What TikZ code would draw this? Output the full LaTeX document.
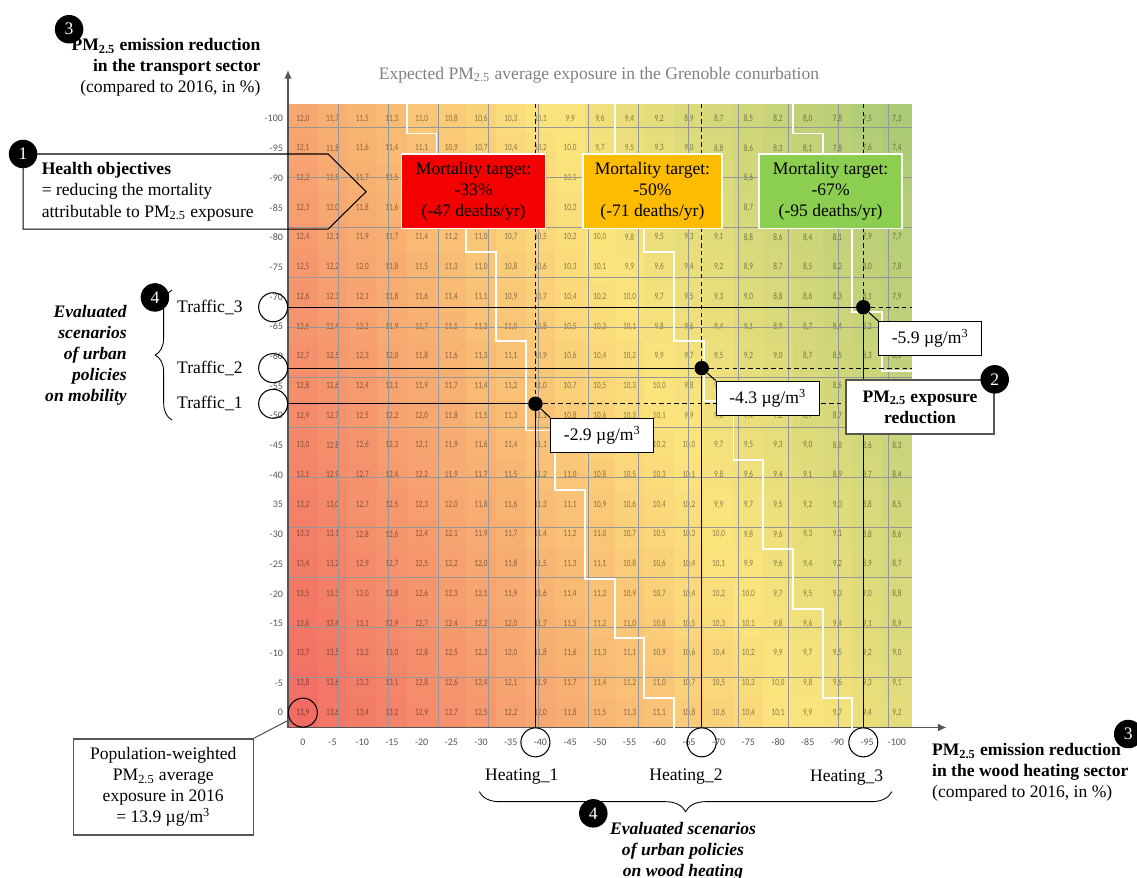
\documentclass[tikz,border=0pt]{standalone}
\usepackage{fontspec}
\setmainfont{Liberation Serif}
\newfontfamily\cellfont[FakeStretch=0.75]{Carlito}
\newfontfamily\tickfont{Carlito}
\usepackage{tikz}
\usetikzlibrary{calc,shapes,arrows.meta,decorations.pathreplacing}

\definecolor{cellhi}{RGB}{242,108,100}
\definecolor{cellmid}{RGB}{252,228,125}
\definecolor{celllo}{RGB}{172,203,118}
\definecolor{axisgray}{RGB}{85,85,85}
\definecolor{titlegray}{RGB}{128,128,128}
\definecolor{cellgrid}{RGB}{150,150,150}
\definecolor{targetred}{RGB}{245,0,0}
\definecolor{targetorange}{RGB}{253,188,0}
\definecolor{targetgreen}{RGB}{140,206,80}

\begin{document}
\begin{tikzpicture}[x=0.594cm,y=0.594cm,
    badge/.style={circle,fill=black,text=white,inner sep=0pt,minimum size=0.57cm},
    ring/.style={circle,draw=black,line width=0.6pt,inner sep=0pt,minimum size=0.58cm},
    dot/.style={circle,fill=black,inner sep=0pt,minimum size=0.29cm},
    targetbox/.style={draw=white,line width=0.8pt,align=center,minimum height=1.49cm,inner sep=1pt},
    valuebox/.style={draw=black,fill=white,line width=0.6pt,minimum width=2.06cm,minimum height=0.68cm,inner sep=1pt},
    ticklab/.style={font=\tickfont\fontsize{5.7}{6}\selectfont,text=axisgray,inner sep=1pt},
    cellnum/.style={font=\cellfont\fontsize{5.5}{6}\selectfont,text=black,text opacity=0.45,inner sep=0pt},
    axisline/.style={draw=axisgray,line width=1.1pt,-{Latex[length=5pt,width=4.5pt]}},
    stairline/.style={draw=white,line width=1.1pt},
    scenline/.style={draw=black,line width=0.6pt},
    guideline/.style={draw=black,line width=0.6pt,dash pattern=on 2.6pt off 1.8pt},
    bigbrace/.style={decorate,draw=black,line width=0.5pt}]
  \useasboundingbox (-9.697,-5.034) rectangle (28.586,24.495);

  %% Building the cells of the exposure table
  \foreach \i in {0,1,...,20}
  {
    \foreach \j in {0,1,...,20}
    {
      \pgfmathtruncatemacro{\tenths}{round(138.81-2.35*\i-0.95*\j)}
      \pgfmathtruncatemacro{\ipart}{\tenths/10}
      \pgfmathtruncatemacro{\dpart}{\tenths-10*\ipart}
      \pgfmathtruncatemacro{\mixhi}{max(0,min(100,(\tenths-100)*100/39))}
      \pgfmathtruncatemacro{\mixlo}{max(0,min(100,(\tenths-73)*100/27))}
      \ifnum\tenths<100
        \colorlet{cellc}{cellmid!\mixlo!celllo}
      \else
        \colorlet{cellc}{cellhi!\mixhi!cellmid}
      \fi
      \fill[cellc] (\i,\j) rectangle ++(1,1);
      \node[cellnum] (C\i-\j) at (\i+0.5,\j+0.5) {\ipart,\dpart};
    }
  }
  \draw[cellgrid,line width=0.35pt] (0,0) grid (21,21);

  %% Label rows and columns:
  \foreach \j in {0,1,...,20}
  {
    \pgfmathtruncatemacro{\pct}{-5*\j}
    \ifnum\j=7 \def\pct{35}\fi
    \node[ticklab,anchor=east] (YL\j) at (-0.1,\j+0.5) {\pct};
  }
  \foreach \i in {0,1,...,20}
  {
    \pgfmathtruncatemacro{\pct}{-5*\i}
    \node[ticklab] (XL\i) at (\i+0.5,-0.5) {\pct};
  }
  \coordinate (O) at (0,0);
  \coordinate (Ytip) at (0,22.14);
  \coordinate (Xtip) at (22.18,0);
  \draw[axisline] (O) -- (Ytip);
  \draw[axisline] (O) -- (Xtip);

  %% Thresholds of the three mortality targets
  \draw[stairline] (4,21) -- (4,20) -- (5,20) -- (5,18) -- (6,18) -- (6,16) -- (7,16) -- (7,13) -- (8,13) -- (8,10) -- (9,10) -- (9,8) -- (10,8) -- (10,5) -- (11,5) -- (11,3) -- (12,3) -- (12,1) -- (13,1) -- (13,0);
  \draw[stairline] (11,21) -- (11,19) -- (12,19) -- (12,16) -- (13,16) -- (13,13) -- (14,13) -- (14,11) -- (15,11) -- (15,9) -- (16,9) -- (16,6) -- (17,6) -- (17,4) -- (18,4) -- (18,1) -- (19,1) -- (19,0);
  \draw[stairline] (17,21) -- (17,20) -- (18,20) -- (18,17) -- (19,17) -- (19,14) -- (20,14) -- (20,12) -- (21,12);

  %% Scenarios: rings on the axes, dots where they cross
  \node[ring] (T3) at (-0.5,14.15) {};
  \node[ring] (T2) at (-0.5,12.1) {};
  \node[ring] (T1) at (-0.5,10.9) {};
  \node[ring] (H1) at (8.33,-0.5) {};
  \node[ring] (H2) at (13.93,-0.5) {};
  \node[ring] (H3) at (19.37,-0.5) {};
  \node[ring] (R0) at (0.5,0.5) {};
  \node[dot] (D1) at (H1|-T1) {};
  \node[dot] (D2) at (H2|-T2) {};
  \node[dot] (D3) at (H3|-T3) {};
  \foreach \k in {1,2,3}
  {
    \coordinate (Dtop\k) at (D\k |- 0,21);
    \coordinate (Dend\k) at (21,0 |- D\k);
    \draw[guideline] (Dtop\k) -- (D\k);
    \draw[guideline] (D\k) -- (Dend\k);
    \draw[scenline] (T\k) -- (D\k);
    \draw[scenline] (D\k) -- (H\k);
  }

  %% Exposure reductions
  \node[valuebox,anchor=north west] (V1) at ($(D1)+(0.5,-0.47)$) {-2.9 µg/m\textsuperscript{3}};
  \node[valuebox,anchor=north west] (V2) at ($(D2)+(0.47,-0.42)$) {-4.3 µg/m\textsuperscript{3}};
  \node[valuebox,anchor=north west] (V3) at ($(D3)+(0.5,-0.46)$) {-5.9 µg/m\textsuperscript{3}};
  \draw[scenline] (D1) -- (V1.north west);
  \draw[scenline] (D2) -- (V2.north west);
  \draw[scenline] (D3) -- (V3.north west);
  \node[valuebox,draw=axisgray,line width=0.8pt,align=center,minimum width=2.96cm,minimum height=1.08cm,font=\bfseries] (PMR) at (21.28,10.79) {PM\textsubscript{2.5} exposure\\reduction};
  \node[badge] (B2) at (PMR.north east) {2};

  %% Mortality targets
  \node[targetbox,fill=targetred,minimum width=2.88cm] (MT1) at (6.25,18.06) {Mortality target:\\-33\%\\(-47 deaths/yr)};
  \node[targetbox,fill=targetorange,minimum width=2.78cm] (MT2) at (12.27,18.06) {Mortality target:\\-50\%\\(-71 deaths/yr)};
  \node[targetbox,fill=targetgreen,minimum width=2.86cm] (MT3) at (18.27,18.06) {Mortality target:\\-67\%\\(-95 deaths/yr)};

  %% Health objectives
  \coordinate (HOa) at (-8.92,19.31);
  \coordinate (HOb) at (1.35,19.31);
  \coordinate (HOc) at (2.63,18.04);
  \coordinate (HOd) at (1.35,16.78);
  \coordinate (HOe) at (-8.92,16.78);
  \draw[line width=0.6pt] (HOa) -- (HOb) -- (HOc) -- (HOd) -- (HOe) -- cycle;
  \node[anchor=west,align=left] (HO) at (-8.5,18.04) {\textbf{Health objectives}\\= reducing the mortality\\attributable to PM\textsubscript{2.5} exposure};
  \node[badge] (B1) at (HOa) {1};

  %% Axis titles
  \node[text=titlegray] (TTL) at (10.47,21.97) {Expected PM\textsubscript{2.5} average exposure in the Grenoble conurbation};
  \node[anchor=east,align=right] (YAX) at (-0.72,22.22) {\textbf{PM\textsubscript{2.5} emission reduction}\\\textbf{in the transport sector}\\(compared to 2016, in \%)};
  \node[badge] (B3a) at (-7.37,23.51) {3};
  \node[anchor=west,align=left] (XAX) at (21.48,-1.52) {\textbf{PM\textsubscript{2.5} emission reduction}\\\textbf{in the wood heating sector}\\(compared to 2016, in \%)};
  \node[badge] (B3b) at (28.29,-0.22) {3};

  %% Scenario names
  \node (TL3) at (-2.63,14.15) {Traffic\_3};
  \node (TL2) at (-2.63,12.1) {Traffic\_2};
  \node (TL1) at (-2.63,10.9) {Traffic\_1};
  \node (HL1) at (7.87,-1.66) {Heating\_1};
  \node (HL2) at (13.4,-1.66) {Heating\_2};
  \node (HL3) at (18.81,-1.68) {Heating\_3};
  \coordinate (BLb) at (-3.9,10.35);
  \coordinate (BLt) at (-3.9,14.73);
  \draw[bigbrace,decoration={brace,amplitude=0.34cm}] (BLb) -- (BLt);
  \node[badge] (B4a) at (-4.48,14.48) {4};
  \node[anchor=east,align=right,font=\bfseries\itshape] (MOB) at (-5.22,12.54) {Evaluated\\scenarios\\of urban\\policies\\on mobility};
  \coordinate (BBr) at (20.33,-2.16);
  \coordinate (BBl) at (6.44,-2.16);
  \draw[bigbrace,decoration={brace,amplitude=0.4cm}] (BBr) -- (BBl);
  \node[badge] (B4b) at (10.28,-2.89) {4};
  \node[align=center,font=\bfseries\itshape] (WOOD) at (13.3,-4.18) {Evaluated scenarios\\of urban policies\\on wood heating};

  %% Exposure in 2016
  \node[draw=axisgray,fill=white,line width=0.8pt,align=center,minimum width=3.6cm,minimum height=1.92cm] (POP) at (-4.2,-2.0) {Population-weighted\\PM\textsubscript{2.5} average\\exposure in 2016\\= 13.9 µg/m\textsuperscript{3}};
  \draw[axisgray,line width=0.6pt] (R0) -- (POP.north east);
\end{tikzpicture}
\end{document}
